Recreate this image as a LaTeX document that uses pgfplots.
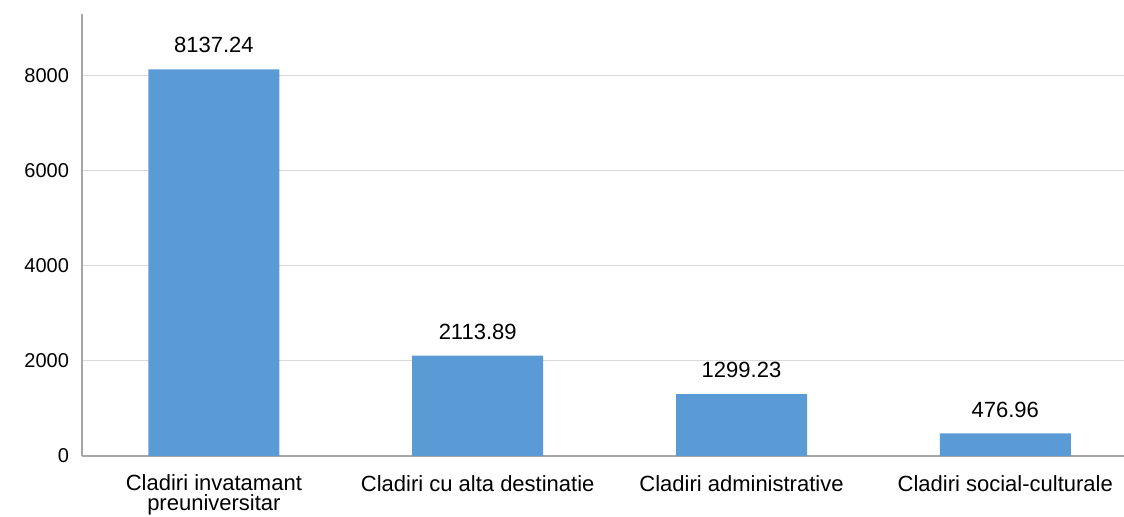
\documentclass[border=0pt]{standalone}
\usepackage{pgfplots}
\pgfplotsset{compat=1.18}
\usepackage{fontspec}
\setmainfont{Liberation Sans}
\definecolor{barblue}{HTML}{5B9BD5}
\definecolor{gridgray}{HTML}{D9D9D9}
\definecolor{axisgray}{HTML}{A6A6A6}
\begin{document}
\begin{tikzpicture}
\begin{axis}[
  scale only axis,
  width=521pt, height=221pt,
  xmin=-0.5, xmax=3.45,
  ymin=0, ymax=9300,
  axis x line=bottom, axis y line=left,
  axis line style={draw=axisgray, line width=0.6pt, -},
  ytick={0,2000,4000,6000,8000},
  ymajorgrids, grid style={draw=gridgray, line width=0.5pt},
  xtick={0,1,2,3},
  xticklabels={{Cladiri invatamant\\[-2pt]preuniversitar},{Cladiri cu alta destinatie},{Cladiri administrative},{Cladiri social-culturale}},
  xticklabel style={align=center, font=\fontsize{11}{12}\selectfont, yshift=-6pt},
  yticklabel style={font=\fontsize{10}{11}\selectfont, xshift=-3pt},
  /pgf/number format/assume math mode=true,
  /pgf/number format/1000 sep={},
  major tick length=0pt,
  tick style={draw=none},
  ybar, bar width=65.5pt,
  nodes near coords,
  point meta=explicit symbolic,
  every node near coord/.append style={font=\fontsize{11}{12}\selectfont, yshift=4.5pt},
  clip=false,
]
\addplot[fill=barblue, draw=none] table[x=x, y=y, meta=lab] {
x y lab
0 8137.24 8137.24
1 2113.89 2113.89
2 1299.23 1299.23
3 476.96 476.96
};
\end{axis}
\pgfresetboundingbox
\path ([xshift=-41pt,yshift=-30.5pt]current axis.south west) rectangle ([yshift=7pt]current axis.north east);
\end{tikzpicture}
\end{document}
